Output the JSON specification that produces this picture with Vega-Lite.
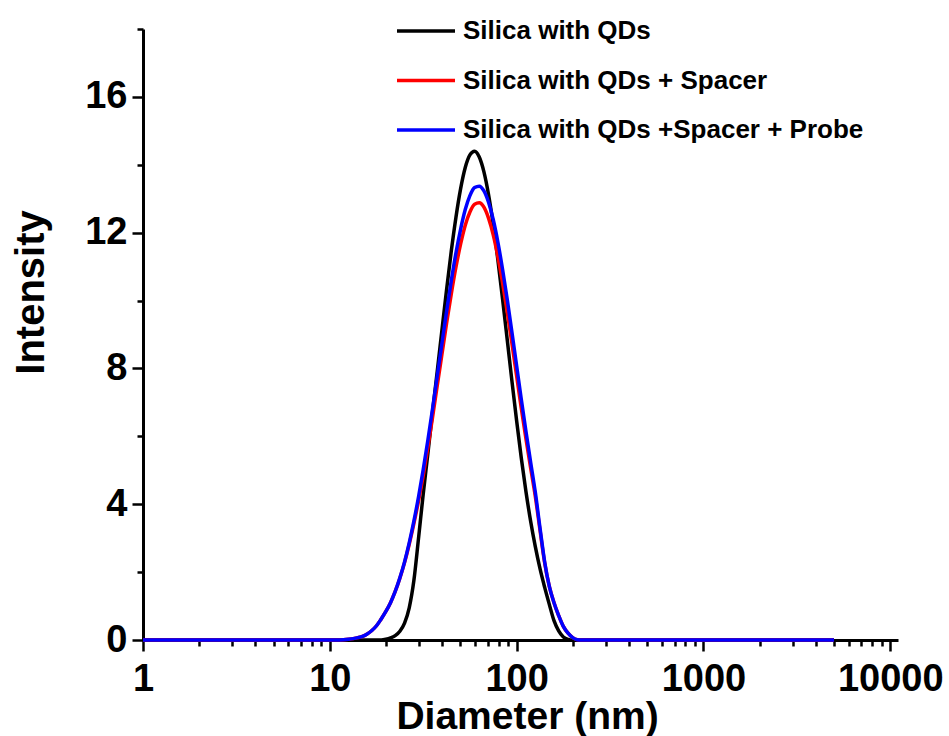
{
  "$schema": "https://vega.github.io/schema/vega-lite/v6.json",
  "width": 755,
  "height": 611,
  "autosize": {"type": "none"},
  "padding": {"left": 143, "top": 29, "right": 51, "bottom": 96},
  "background": "white",
  "config": {"view": {"stroke": null}, "font": "Liberation Sans"},
  "data": {"values": [
    {"diameter": 1, "qd": 0, "spacer": 0, "probe": 0},
    {"diameter": 10, "qd": 0, "spacer": 0, "probe": 0},
    {"diameter": 11.22, "qd": 0, "spacer": 0, "probe": 0},
    {"diameter": 12.59, "qd": 0, "spacer": 0.02, "probe": 0.02},
    {"diameter": 13.34, "qd": 0, "spacer": 0.04, "probe": 0.04},
    {"diameter": 14.13, "qd": 0, "spacer": 0.07, "probe": 0.07},
    {"diameter": 14.96, "qd": 0, "spacer": 0.11, "probe": 0.11},
    {"diameter": 15.85, "qd": 0, "spacer": 0.18, "probe": 0.18},
    {"diameter": 16.79, "qd": 0, "spacer": 0.28, "probe": 0.28},
    {"diameter": 17.78, "qd": 0, "spacer": 0.42, "probe": 0.42},
    {"diameter": 18.84, "qd": 0, "spacer": 0.62, "probe": 0.62},
    {"diameter": 19.95, "qd": 0.02, "spacer": 0.84, "probe": 0.84},
    {"diameter": 21.13, "qd": 0.06, "spacer": 1.1, "probe": 1.1},
    {"diameter": 22.39, "qd": 0.13, "spacer": 1.43, "probe": 1.43},
    {"diameter": 23.71, "qd": 0.26, "spacer": 1.82, "probe": 1.83},
    {"diameter": 25.12, "qd": 0.5, "spacer": 2.28, "probe": 2.3},
    {"diameter": 26.61, "qd": 0.95, "spacer": 2.82, "probe": 2.86},
    {"diameter": 28.18, "qd": 1.75, "spacer": 3.43, "probe": 3.5},
    {"diameter": 29.85, "qd": 3.0, "spacer": 4.1, "probe": 4.22},
    {"diameter": 31.62, "qd": 4.3, "spacer": 4.84, "probe": 5.02},
    {"diameter": 33.5, "qd": 5.5, "spacer": 5.67, "probe": 5.89},
    {"diameter": 35.48, "qd": 6.73, "spacer": 6.56, "probe": 6.81},
    {"diameter": 37.58, "qd": 7.91, "spacer": 7.49, "probe": 7.77},
    {"diameter": 39.81, "qd": 9.12, "spacer": 8.41, "probe": 8.73},
    {"diameter": 42.17, "qd": 10.32, "spacer": 9.33, "probe": 9.68},
    {"diameter": 44.67, "qd": 11.45, "spacer": 10.19, "probe": 10.58},
    {"diameter": 47.32, "qd": 12.45, "spacer": 10.98, "probe": 11.4},
    {"diameter": 50.12, "qd": 13.29, "spacer": 11.66, "probe": 12.1},
    {"diameter": 53.09, "qd": 13.92, "spacer": 12.22, "probe": 12.68},
    {"diameter": 56.23, "qd": 14.29, "spacer": 12.61, "probe": 13.09},
    {"diameter": 59.57, "qd": 14.4, "spacer": 12.84, "probe": 13.33},
    {"diameter": 63.1, "qd": 14.23, "spacer": 12.88, "probe": 13.37},
    {"diameter": 66.83, "qd": 13.79, "spacer": 12.75, "probe": 13.23},
    {"diameter": 70.79, "qd": 13.11, "spacer": 12.42, "probe": 12.89},
    {"diameter": 74.99, "qd": 12.23, "spacer": 11.93, "probe": 12.38},
    {"diameter": 79.43, "qd": 11.18, "spacer": 11.28, "probe": 11.71},
    {"diameter": 84.14, "qd": 10.03, "spacer": 10.51, "probe": 10.91},
    {"diameter": 89.13, "qd": 8.83, "spacer": 9.65, "probe": 10.02},
    {"diameter": 94.41, "qd": 7.62, "spacer": 8.73, "probe": 9.06},
    {"diameter": 100, "qd": 6.46, "spacer": 7.78, "probe": 8.08},
    {"diameter": 105.9, "qd": 5.36, "spacer": 6.83, "probe": 7.09},
    {"diameter": 112.2, "qd": 4.37, "spacer": 5.92, "probe": 6.14},
    {"diameter": 118.9, "qd": 3.49, "spacer": 5.06, "probe": 5.23},
    {"diameter": 125.9, "qd": 2.75, "spacer": 4.23, "probe": 4.35},
    {"diameter": 133.4, "qd": 2.1, "spacer": 3.23, "probe": 3.3},
    {"diameter": 141.3, "qd": 1.55, "spacer": 2.27, "probe": 2.3},
    {"diameter": 149.6, "qd": 1.05, "spacer": 1.58, "probe": 1.58},
    {"diameter": 158.5, "qd": 0.57, "spacer": 1.1, "probe": 1.1},
    {"diameter": 167.9, "qd": 0.27, "spacer": 0.72, "probe": 0.72},
    {"diameter": 177.8, "qd": 0.09, "spacer": 0.4, "probe": 0.4},
    {"diameter": 188.4, "qd": 0.02, "spacer": 0.2, "probe": 0.2},
    {"diameter": 199.5, "qd": 0, "spacer": 0.07, "probe": 0.07},
    {"diameter": 211.3, "qd": 0, "spacer": 0.01, "probe": 0.01},
    {"diameter": 223.9, "qd": 0, "spacer": 0, "probe": 0},
    {"diameter": 1000, "qd": 0, "spacer": 0, "probe": 0},
    {"diameter": 5000, "qd": 0, "spacer": 0, "probe": 0}
  ]},
  "transform": [{"fold": ["qd", "spacer", "probe"], "as": ["series", "intensity"]}],
  "layer": [
    {
      "mark": {"type": "line", "strokeWidth": 3.5, "interpolate": "monotone"},
      "encoding": {
        "x": {
          "field": "diameter", "type": "quantitative",
          "scale": {"type": "log", "domain": [1, 11000], "nice": false},
          "axis": {
            "orient": "bottom", "values": [1, 10, 100, 1000, 10000], "format": "d",
            "title": "Diameter (nm)", "grid": false,
            "domainColor": "black", "domainWidth": 3,
            "tickColor": "black", "tickSize": 11, "tickWidth": 2.5,
            "labelFontSize": 38, "labelFontWeight": "bold", "labelColor": "black",
            "labelPadding": 9, "labelFlush": false, "labelOverlap": false,
            "titleFontSize": 39, "titleFontWeight": "bold", "titleColor": "black",
            "titleX": 384, "titleY": 88, "titleAlign": "center", "titleBaseline": "alphabetic"
          }
        },
        "y": {
          "field": "intensity", "type": "quantitative",
          "scale": {"domain": [0, 18], "nice": false},
          "axis": {
            "orient": "left", "values": [0, 4, 8, 12, 16],
            "title": "Intensity", "grid": false,
            "domainColor": "black", "domainWidth": 3,
            "tickColor": "black", "tickSize": 11, "tickWidth": 2.5,
            "labelFontSize": 38, "labelFontWeight": "bold", "labelColor": "black",
            "labelPadding": 5, "labelOverlap": false,
            "titleFontSize": 40, "titleFontWeight": "bold", "titleColor": "black",
            "titleX": -100, "titleY": 263, "titleAlign": "center", "titleBaseline": "alphabetic", "titleAngle": -90
          }
        },
        "color": {
          "field": "series", "type": "nominal",
          "scale": {"domain": ["qd", "spacer", "probe"], "range": ["#000000", "#ff0000", "#0000ff"]},
          "legend": {
            "orient": "none", "legendX": 252, "legendY": -29, "direction": "vertical",
            "title": null, "padding": 0,
            "symbolType": "stroke", "symbolSize": 3364, "symbolStrokeWidth": 3.5,
            "labelFontSize": 26, "labelFontWeight": "bold", "labelColor": "black",
            "labelLimit": 800, "labelOffset": 6, "rowPadding": 5.5,
            "labelExpr": "datum.value == 'qd' ? 'Silica with QDs' : datum.value == 'spacer' ? 'Silica with QDs + Spacer' : 'Silica with QDs +Spacer + Probe'"
          }
        }
      }
    },
    {
      "mark": {"type": "line", "strokeOpacity": 0},
      "encoding": {
        "x": {
          "field": "diameter", "type": "quantitative",
          "axis": {
            "orient": "bottom",
            "values": [2, 3, 4, 5, 6, 7, 8, 9, 20, 30, 40, 50, 60, 70, 80, 90, 200, 300, 400, 500, 600, 700, 800, 900, 2000, 3000, 4000, 5000, 6000, 7000, 8000, 9000],
            "labels": false, "domain": false, "title": null, "grid": false,
            "tickColor": "black", "tickSize": 6, "tickWidth": 2.5
          }
        },
        "y": {
          "field": "intensity", "type": "quantitative",
          "axis": {
            "orient": "left", "values": [2, 6, 10, 14, 18],
            "labels": false, "domain": false, "title": null, "grid": false,
            "tickColor": "black", "tickSize": 6, "tickWidth": 2.5
          }
        }
      }
    }
  ],
  "resolve": {"axis": {"x": "independent", "y": "independent"}}
}
